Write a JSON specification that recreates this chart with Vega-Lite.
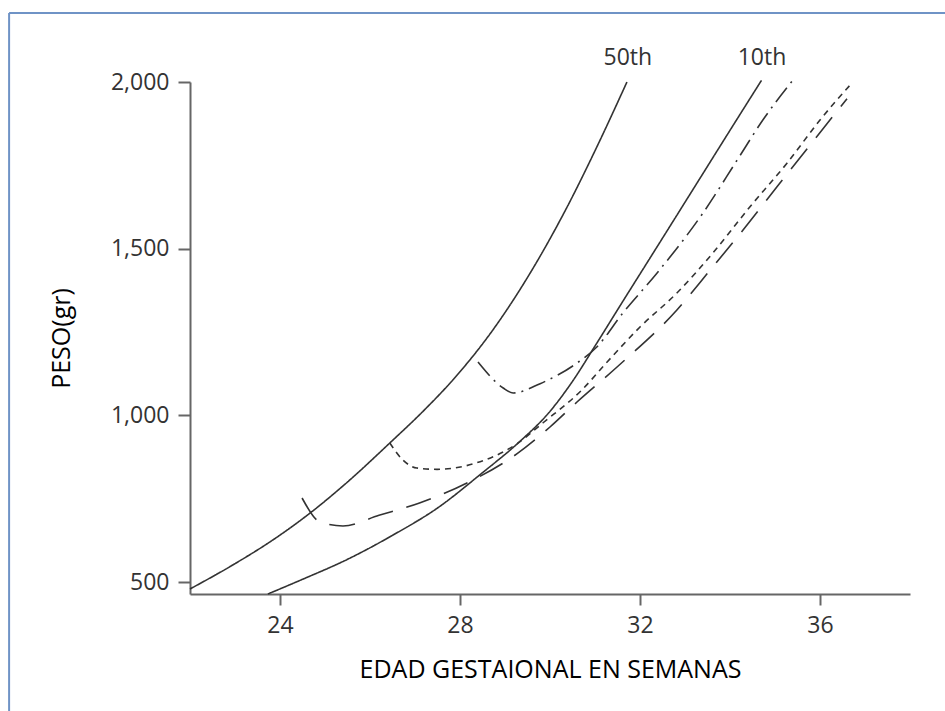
{
  "$schema": "https://vega.github.io/schema/vega-lite/v6.json",
  "autosize": {"type": "none"},
  "width": 720,
  "height": 512,
  "padding": {"left": 190, "top": 82, "right": 35, "bottom": 117},
  "background": "white",
  "config": {
    "view": {"stroke": null},
    "axis": {"grid": false}
  },
  "datasets": {
    "curves": [
      {"s": "p50", "w": 22.0, "v": 479},
      {"s": "p50", "w": 23.0, "v": 555},
      {"s": "p50", "w": 23.84, "v": 626},
      {"s": "p50", "w": 24.67, "v": 707},
      {"s": "p50", "w": 25.5, "v": 800},
      {"s": "p50", "w": 26.44, "v": 917},
      {"s": "p50", "w": 27.2, "v": 1015},
      {"s": "p50", "w": 27.84, "v": 1106},
      {"s": "p50", "w": 28.73, "v": 1256},
      {"s": "p50", "w": 29.56, "v": 1427},
      {"s": "p50", "w": 30.38, "v": 1625},
      {"s": "p50", "w": 31.04, "v": 1805},
      {"s": "p50", "w": 31.71, "v": 2000},
      {"s": "p10", "w": 23.73, "v": 464},
      {"s": "p10", "w": 24.5, "v": 508},
      {"s": "p10", "w": 25.5, "v": 568},
      {"s": "p10", "w": 26.5, "v": 640},
      {"s": "p10", "w": 27.5, "v": 722},
      {"s": "p10", "w": 28.5, "v": 828},
      {"s": "p10", "w": 29.3, "v": 918},
      {"s": "p10", "w": 30.0, "v": 1012},
      {"s": "p10", "w": 30.5, "v": 1102},
      {"s": "p10", "w": 31.0, "v": 1208},
      {"s": "p10", "w": 31.6, "v": 1338},
      {"s": "p10", "w": 32.4, "v": 1510},
      {"s": "p10", "w": 33.3, "v": 1704},
      {"s": "p10", "w": 34.0, "v": 1855},
      {"s": "p10", "w": 34.7, "v": 2005},
      {"s": "longdash", "w": 24.49, "v": 752},
      {"s": "longdash", "w": 24.89, "v": 680},
      {"s": "longdash", "w": 25.4, "v": 668},
      {"s": "longdash", "w": 26.2, "v": 700},
      {"s": "longdash", "w": 27.1, "v": 737},
      {"s": "longdash", "w": 28.2, "v": 800},
      {"s": "longdash", "w": 29.27, "v": 885},
      {"s": "longdash", "w": 30.0, "v": 965},
      {"s": "longdash", "w": 30.6, "v": 1040},
      {"s": "longdash", "w": 31.49, "v": 1145},
      {"s": "longdash", "w": 32.82, "v": 1316},
      {"s": "longdash", "w": 33.56, "v": 1436},
      {"s": "longdash", "w": 34.29, "v": 1556},
      {"s": "longdash", "w": 35.04, "v": 1685},
      {"s": "longdash", "w": 35.78, "v": 1811},
      {"s": "longdash", "w": 36.6, "v": 1950},
      {"s": "shortdash", "w": 26.44, "v": 917},
      {"s": "shortdash", "w": 26.73, "v": 866},
      {"s": "shortdash", "w": 27.04, "v": 842},
      {"s": "shortdash", "w": 27.49, "v": 838},
      {"s": "shortdash", "w": 28.38, "v": 858},
      {"s": "shortdash", "w": 29.27, "v": 915},
      {"s": "shortdash", "w": 29.84, "v": 977},
      {"s": "shortdash", "w": 30.7, "v": 1075},
      {"s": "shortdash", "w": 31.27, "v": 1160},
      {"s": "shortdash", "w": 32.0, "v": 1265},
      {"s": "shortdash", "w": 32.82, "v": 1367},
      {"s": "shortdash", "w": 33.62, "v": 1487},
      {"s": "shortdash", "w": 34.44, "v": 1625},
      {"s": "shortdash", "w": 35.27, "v": 1757},
      {"s": "shortdash", "w": 36.0, "v": 1886},
      {"s": "shortdash", "w": 36.67, "v": 1991},
      {"s": "dashdot", "w": 28.4, "v": 1160},
      {"s": "dashdot", "w": 28.96, "v": 1082},
      {"s": "dashdot", "w": 29.18, "v": 1067},
      {"s": "dashdot", "w": 29.78, "v": 1095},
      {"s": "dashdot", "w": 30.6, "v": 1157},
      {"s": "dashdot", "w": 31.04, "v": 1205},
      {"s": "dashdot", "w": 31.62, "v": 1307},
      {"s": "dashdot", "w": 32.38, "v": 1427},
      {"s": "dashdot", "w": 33.4, "v": 1607},
      {"s": "dashdot", "w": 34.16, "v": 1766},
      {"s": "dashdot", "w": 34.73, "v": 1886},
      {"s": "dashdot", "w": 35.4, "v": 2006}
    ],
    "labels": [
      {"label": "50th", "w": 31.73, "v": 2072},
      {"label": "10th", "w": 34.71, "v": 2072}
    ],
    "frameH": [
      {"w": 17.98, "w2": 40, "v": 2207}
    ],
    "frameV": [
      {"w": 17.98, "v": 2207, "v2": 0}
    ]
  },
  "layer": [
    {
      "data": {"name": "frameH"},
      "mark": {"type": "rule", "color": "#6f93c6", "strokeWidth": 2},
      "encoding": {
        "x": {"field": "w", "type": "quantitative", "scale": {"domain": [22, 38], "nice": false, "zero": false}},
        "x2": {"field": "w2"},
        "y": {"field": "v", "type": "quantitative", "scale": {"domain": [464, 2000], "nice": false, "zero": false}}
      }
    },
    {
      "data": {"name": "frameV"},
      "mark": {"type": "rule", "color": "#6f93c6", "strokeWidth": 2},
      "encoding": {
        "x": {"field": "w", "type": "quantitative"},
        "y": {"field": "v", "type": "quantitative"},
        "y2": {"field": "v2"}
      }
    },
    {
      "data": {"name": "curves"},
      "mark": {"type": "line", "interpolate": "monotone", "color": "#333333", "strokeWidth": 1.6},
      "encoding": {
        "x": {
          "field": "w", "type": "quantitative",
          "axis": {
            "values": [24, 28, 32, 36],
            "title": "EDAD GESTAIONAL EN SEMANAS",
            "domainColor": "#666", "domainWidth": 2,
            "tickColor": "#666", "tickWidth": 2, "tickSize": 11,
            "labelFont": "Open Sans", "labelFontSize": 23, "labelColor": "#333333",
            "labelPadding": 9,
            "titleFont": "Open Sans", "titleFontSize": 25, "titleFontWeight": "normal", "titleColor": "#000",
            "titlePadding": 20
          }
        },
        "y": {
          "field": "v", "type": "quantitative",
          "axis": {
            "values": [500, 1000, 1500, 2000],
            "format": ",d",
            "title": "PESO(gr)",
            "domainColor": "#666", "domainWidth": 2,
            "tickColor": "#666", "tickWidth": 2, "tickSize": 12,
            "labelFont": "Open Sans", "labelFontSize": 23, "labelColor": "#333333",
            "labelPadding": 9,
            "titleFont": "Open Sans", "titleFontSize": 25, "titleFontWeight": "normal", "titleColor": "#000",
            "titlePadding": 36
          }
        },
        "detail": {"field": "s", "type": "nominal"},
        "strokeDash": {
          "field": "s", "type": "nominal",
          "scale": {
            "domain": ["p50", "p10", "longdash", "shortdash", "dashdot"],
            "range": [[1, 0], [1, 0], [26, 14], [6, 5], [18, 6, 2, 6]]
          },
          "legend": null
        }
      }
    },
    {
      "data": {"name": "labels"},
      "mark": {"type": "text", "font": "Open Sans", "fontSize": 23, "color": "#333333", "baseline": "middle", "align": "center"},
      "encoding": {
        "x": {"field": "w", "type": "quantitative"},
        "y": {"field": "v", "type": "quantitative"},
        "text": {"field": "label"}
      }
    }
  ]
}
